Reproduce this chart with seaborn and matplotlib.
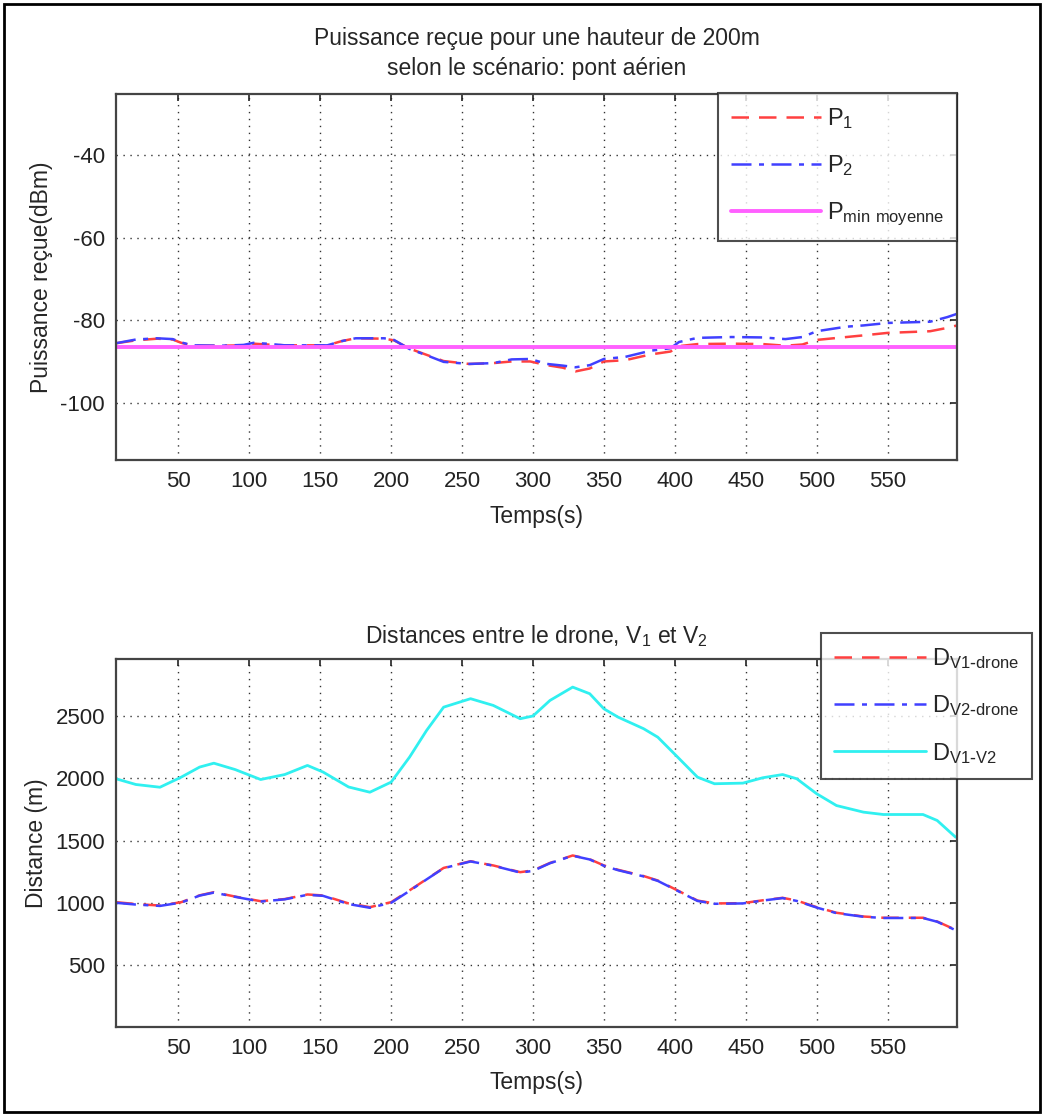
import matplotlib
matplotlib.use("Agg")
import matplotlib.pyplot as plt
import seaborn as sns
import numpy as np
from matplotlib.patches import Rectangle

# ---------------- data ----------------
t_power = [6, 20, 35, 46, 52, 60, 80, 96, 103, 112, 125, 155, 165, 175, 195, 202,
           213, 225, 237, 255, 272, 285, 298, 310, 321, 330, 340, 350, 365, 383,
           397, 403, 416, 440, 462, 478, 490, 500, 521, 533, 550, 580, 592, 599]
p1 = [-85.5, -84.8, -84.4, -84.6, -85.4, -86.1, -86.1, -86.0, -85.6, -85.8, -86.0, -86.0,
      -85.0, -84.3, -84.4, -84.8, -86.8, -88.3, -89.8, -90.5, -90.3, -89.9, -89.9, -90.8,
      -91.4, -92.3, -91.6, -89.9, -89.6, -88.2, -87.5, -86.2, -85.7, -85.6, -85.7, -86.1,
      -85.8, -84.7, -84.0, -83.6, -83.0, -82.6, -81.8, -81.2]
p2 = [-85.5, -84.6, -84.3, -84.5, -85.3, -86.0, -86.1, -85.9, -85.4, -85.6, -86.0, -86.0,
      -85.0, -84.3, -84.3, -84.7, -86.9, -88.4, -90.0, -90.5, -90.3, -89.4, -89.3, -90.5,
      -90.9, -91.3, -90.8, -89.3, -88.8, -87.3, -86.7, -85.2, -84.2, -84.0, -84.1, -84.5,
      -84.0, -82.6, -81.5, -81.2, -80.6, -80.3, -79.2, -78.4]
p_min_moyenne = -86.4

t_dist = [6, 20, 37, 52, 65, 75, 90, 108, 125, 141, 152, 170, 185, 200, 213, 225, 237,
          256, 272, 291, 300, 312, 328, 340, 350, 360, 378, 388, 402, 416, 428, 448, 462,
          476, 486, 500, 514, 533, 547, 575, 585, 598]
d_v1_drone = [1005, 990, 978, 1005, 1060, 1085, 1050, 1013, 1030, 1067, 1059, 995, 965,
              1005, 1100, 1190, 1280, 1334, 1300, 1246, 1260, 1320, 1380, 1350, 1300, 1265,
              1215, 1179, 1099, 1018, 995, 997, 1020, 1040, 1018, 965, 920, 890, 880, 880,
              850, 783]
d_v2_drone = [1000, 986, 975, 1002, 1058, 1082, 1048, 1010, 1028, 1064, 1056, 990, 960,
              1000, 1096, 1188, 1278, 1332, 1298, 1243, 1256, 1318, 1378, 1348, 1297, 1262,
              1212, 1176, 1096, 1015, 992, 995, 1018, 1038, 1015, 962, 917, 888, 878, 878,
              848, 780]
d_v1_v2 = [1996, 1950, 1928, 2009, 2090, 2121, 2070, 1990, 2030, 2103, 2050, 1930, 1888,
           1969, 2170, 2384, 2571, 2639, 2585, 2478, 2500, 2625, 2732, 2679, 2558, 2491,
           2398, 2330, 2170, 2009, 1956, 1961, 2004, 2030, 1996, 1876, 1781, 1728, 1709,
           1709, 1661, 1527]

x_ticks = [50, 100, 150, 200, 250, 300, 350, 400, 450, 500, 550]
p_ticks = [-100, -80, -60, -40]
d_ticks = [500, 1000, 1500, 2000, 2500]

# ---------------- style ----------------
sns.set_theme(style="white")
FONT = ["Liberation Sans", "DejaVu Sans"]
plt.rcParams["font.family"] = FONT
plt.rcParams["mathtext.default"] = "regular"
plt.rcParams["axes.unicode_minus"] = False
FS = 16
LFS = 17
plt.rcParams.update({
    "xtick.direction": "in", "ytick.direction": "in",
    "xtick.top": True, "ytick.right": True,
    "xtick.major.size": 5, "ytick.major.size": 5,
    "xtick.major.width": 1.2, "ytick.major.width": 1.2,
    "xtick.color": "#222222", "ytick.color": "#222222",
    "xtick.labelcolor": "#222222", "ytick.labelcolor": "#222222",
})

fig = plt.figure(figsize=(10.44, 11.16), dpi=100)
fig.patch.set_facecolor("white")
ax1 = fig.add_axes([0.1111, 0.5878, 0.8056, 0.3280])
ax2 = fig.add_axes([0.1111, 0.0800, 0.8056, 0.3292])

RED = "#ff4040"
BLUE = "#4040ff"
MAG = "#ff60ff"
CYAN = "#30f0f0"
DASH = [7, 4]
DASHDOT = [8, 3, 2, 3]

def style_axes(ax):
    for sp in ax.spines.values():
        sp.set_color("#444444")
        sp.set_linewidth(1.6)
    ax.grid(True, color="#333333", linestyle=(0, (1, 4)), linewidth=1.0)
    ax.tick_params(labelsize=FS, pad=8)
    ax.set_xticks(x_ticks)
    ax.set_xlim(6, 599)

def style_legend(leg):
    leg.get_frame().set_edgecolor("#222222")
    leg.get_frame().set_linewidth(1.5)
    leg.get_lines()[0].set_dashes(DASH)
    leg.get_lines()[1].set_dashes(DASHDOT)

# top plot
sns.lineplot(x=t_power, y=p1, ax=ax1, color=RED, linewidth=1.8, label="P$_1$")
sns.lineplot(x=t_power, y=p2, ax=ax1, color=BLUE, linewidth=1.8, label="P$_2$")
sns.lineplot(x=[t_power[0], t_power[-1]], y=[p_min_moyenne, p_min_moyenne], ax=ax1,
             color=MAG, linewidth=2.8, label="P$_{min\\ moyenne}$")
ax1.lines[0].set_dashes(DASH)
ax1.lines[1].set_dashes(DASHDOT)
style_axes(ax1)
ax1.set_yticks(p_ticks)
ax1.set_ylim(-113.7, -25.3)
ax1.set_title("Puissance reçue pour une hauteur de 200m\nselon le scénario: pont aérien",
              fontsize=FS + 0.5, pad=14, linespacing=1.35)
ax1.set_xlabel("Temps(s)", fontsize=FS + 0.5, labelpad=9)
ax1.set_ylabel("Puissance reçue(dBm)", fontsize=FS + 0.5, labelpad=5)
leg1 = ax1.legend(loc="upper right", bbox_to_anchor=(0.9167, 0.9167),
                  bbox_transform=fig.transFigure, fontsize=LFS, frameon=True,
                  fancybox=False, handlelength=3.8, handletextpad=0.25,
                  labelspacing=0.95, borderpad=0.55, borderaxespad=0)
style_legend(leg1)

# bottom plot
sns.lineplot(x=t_dist, y=d_v1_drone, ax=ax2, color=RED, linewidth=1.8, label="D$_{V1\\text{-}drone}$")
sns.lineplot(x=t_dist, y=d_v2_drone, ax=ax2, color=BLUE, linewidth=1.8, label="D$_{V2\\text{-}drone}$")
sns.lineplot(x=t_dist, y=d_v1_v2, ax=ax2, color=CYAN, linewidth=2.0, label="D$_{V1\\text{-}V2}$")
ax2.lines[0].set_dashes(DASH)
ax2.lines[1].set_dashes(DASHDOT)
style_axes(ax2)
ax2.set_yticks(d_ticks)
ax2.set_ylim(5, 2955)
ax2.set_title("Distances entre le drone, V$_1$ et V$_2$", fontsize=FS + 0.5, pad=12)
ax2.set_xlabel("Temps(s)", fontsize=FS + 0.5, labelpad=9)
ax2.set_ylabel("Distance (m)", fontsize=FS + 0.5, labelpad=5)
leg2 = ax2.legend(loc="upper right", bbox_to_anchor=(0.9885, 0.4328),
                  bbox_transform=fig.transFigure, fontsize=LFS, frameon=True,
                  fancybox=False, handlelength=3.9, handletextpad=0.25,
                  labelspacing=0.95, borderpad=0.55, borderaxespad=0)
style_legend(leg2)

# figure border
fig.patches.append(Rectangle((0.004, 0.004), 0.992, 0.992, transform=fig.transFigure,
                             fill=False, edgecolor="black", linewidth=2))

fig.savefig("out.png", dpi=100)
